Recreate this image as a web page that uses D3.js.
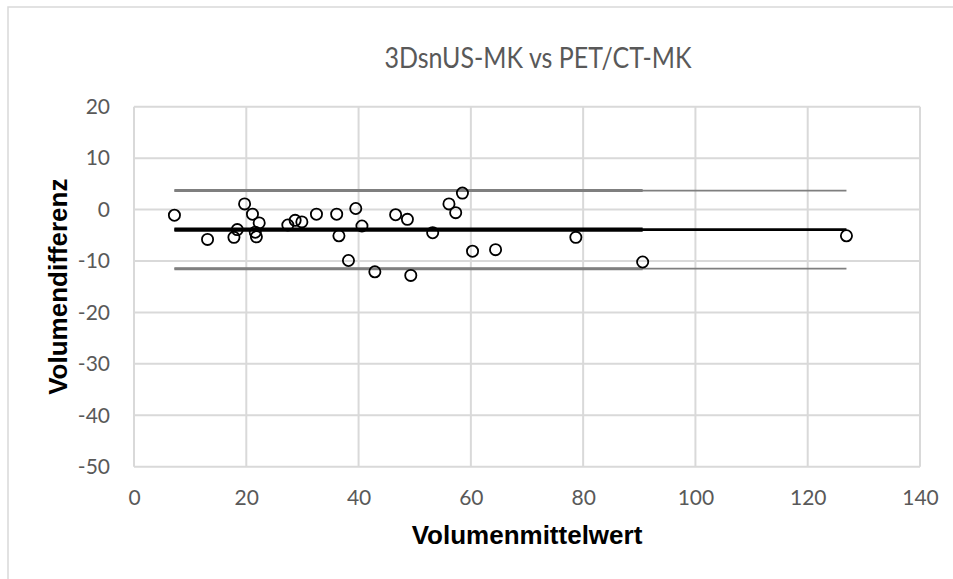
<!DOCTYPE html>
<html>
<head>
<meta charset="utf-8">
<script src="https://cdn.jsdelivr.net/npm/d3@7"></script>
<style>
  html, body { margin: 0; padding: 0; background: #fff; }
  svg { display: block; }
</style>
</head>
<body>
<svg id="chart" width="953" height="579"></svg>
<script>
// Bland-Altman data: mean volume (x) vs. volume difference (y)
const meanVolume = [7.2, 13.1, 17.8, 18.4, 19.7, 21.1, 22.3, 21.6, 21.8, 27.4,
                    28.7, 29.9, 32.5, 36.1, 36.5, 39.5, 40.6, 38.2, 42.9, 46.6,
                    48.7, 53.2, 49.3, 56.1, 57.3, 58.5, 60.3, 64.4, 78.7, 90.6, 126.9];
const volumeDiff = [-1.1, -5.8, -5.4, -3.9, 1.1, -0.9, -2.6, -4.4, -5.3, -3.0,
                    -2.1, -2.4, -0.9, -0.9, -5.1, 0.2, -3.2, -9.9, -12.1, -1.0,
                    -1.9, -4.5, -12.8, 1.1, -0.6, 3.2, -8.1, -7.8, -5.4, -10.2, -5.1];

// Mean difference and limits of agreement
const meanDiff = -3.9;
const upperLoA = 3.7;
const lowerLoA = -11.5;

const xTicks = [0, 20, 40, 60, 80, 100, 120, 140];
const yTicks = [20, 10, 0, -10, -20, -30, -40, -50];

const titleText = "3DsnUS-MK vs PET/CT-MK";
const xTitle = "Volumenmittelwert";
const yTitle = "Volumendifferenz";

const svg = d3.select("#chart");
const plot = { left: 134, right: 920, top: 106.7, bottom: 466.7 };

const x = d3.scaleLinear().domain([0, 140]).range([plot.left, plot.right]);
const y = d3.scaleLinear().domain([-50, 20]).range([plot.bottom, plot.top]);

const gridColor = "#d9d9d9";
const labelColor = "#595959";
const tickFont = "Lato, 'Open Sans', sans-serif";

// chart frame
svg.append("rect")
  .attr("x", 8).attr("y", 7)
  .attr("width", 1100).attr("height", 700)
  .attr("fill", "#fff")
  .attr("stroke", gridColor).attr("stroke-width", 1.5);

// gridlines
svg.append("g").selectAll("line").data(yTicks).join("line")
  .attr("x1", plot.left).attr("x2", plot.right)
  .attr("y1", d => y(d)).attr("y2", d => y(d))
  .attr("stroke", gridColor).attr("stroke-width", 2);
svg.append("g").selectAll("line").data(xTicks).join("line")
  .attr("x1", d => x(d)).attr("x2", d => x(d))
  .attr("y1", plot.top).attr("y2", plot.bottom)
  .attr("stroke", gridColor).attr("stroke-width", 2);

// axes (labels only)
const xAxis = svg.append("g")
  .attr("transform", `translate(0,${plot.bottom})`)
  .call(d3.axisBottom(x).tickValues(xTicks).tickSize(0).tickPadding(23.5).tickFormat(d3.format("d")));
const yAxis = svg.append("g")
  .attr("transform", `translate(${plot.left},0)`)
  .call(d3.axisLeft(y).tickValues(yTicks).tickSize(0).tickPadding(24).tickFormat(d => d < 0 ? "-" + Math.abs(d) : d));
[xAxis, yAxis].forEach(a => {
  a.select(".domain").remove();
  a.selectAll("text")
    .attr("fill", labelColor)
    .style("font-family", tickFont)
    .style("font-size", "21px");
});

// reference lines: heavier over the bulk of the data, lighter out to the largest value
const xs = meanVolume.slice().sort((a, b) => a - b);
const xMin = xs[0], xMax = xs[xs.length - 1], xInner = xs[xs.length - 2];
const refLines = [
  { value: upperLoA, color: "#7f7f7f", heavy: 3, light: 1.7 },
  { value: lowerLoA, color: "#7f7f7f", heavy: 3, light: 1.7 },
  { value: meanDiff, color: "#000000", heavy: 4.2, light: 2.6 }
];
const refG = svg.append("g");
refLines.forEach(r => {
  refG.append("line")
    .attr("x1", x(xMin)).attr("x2", x(xMax))
    .attr("y1", y(r.value)).attr("y2", y(r.value))
    .attr("stroke", r.color).attr("stroke-width", r.light);
  refG.append("line")
    .attr("x1", x(xMin)).attr("x2", x(xInner))
    .attr("y1", y(r.value)).attr("y2", y(r.value))
    .attr("stroke", r.color).attr("stroke-width", r.heavy);
});

// data points
svg.append("g").selectAll("circle").data(d3.zip(meanVolume, volumeDiff)).join("circle")
  .attr("cx", d => x(d[0]))
  .attr("cy", d => y(d[1]))
  .attr("r", 5.6)
  .attr("fill", "none")
  .attr("stroke", "#000")
  .attr("stroke-width", 1.8);

// title (slightly condensed to a narrower letterform)
svg.append("text")
  .attr("x", 538).attr("y", 68)
  .attr("text-anchor", "middle")
  .attr("fill", labelColor)
  .attr("textLength", 307)
  .attr("lengthAdjust", "spacingAndGlyphs")
  .style("font-family", tickFont)
  .style("font-size", "28px")
  .text(titleText);

// axis titles
svg.append("text")
  .attr("x", (plot.left + plot.right) / 2).attr("y", 544)
  .attr("text-anchor", "middle")
  .attr("fill", "#000")
  .style("font-family", "'Liberation Sans', Arial, sans-serif")
  .style("font-weight", "bold")
  .style("font-size", "26px")
  .text(xTitle);

svg.append("text")
  .attr("transform", `translate(67,${(plot.top + plot.bottom) / 2}) rotate(-90)`)
  .attr("text-anchor", "middle")
  .attr("fill", "#000")
  .style("font-family", "'Liberation Sans', Arial, sans-serif")
  .style("font-weight", "bold")
  .style("font-size", "26px")
  .text(yTitle);
</script>
</body>
</html>
